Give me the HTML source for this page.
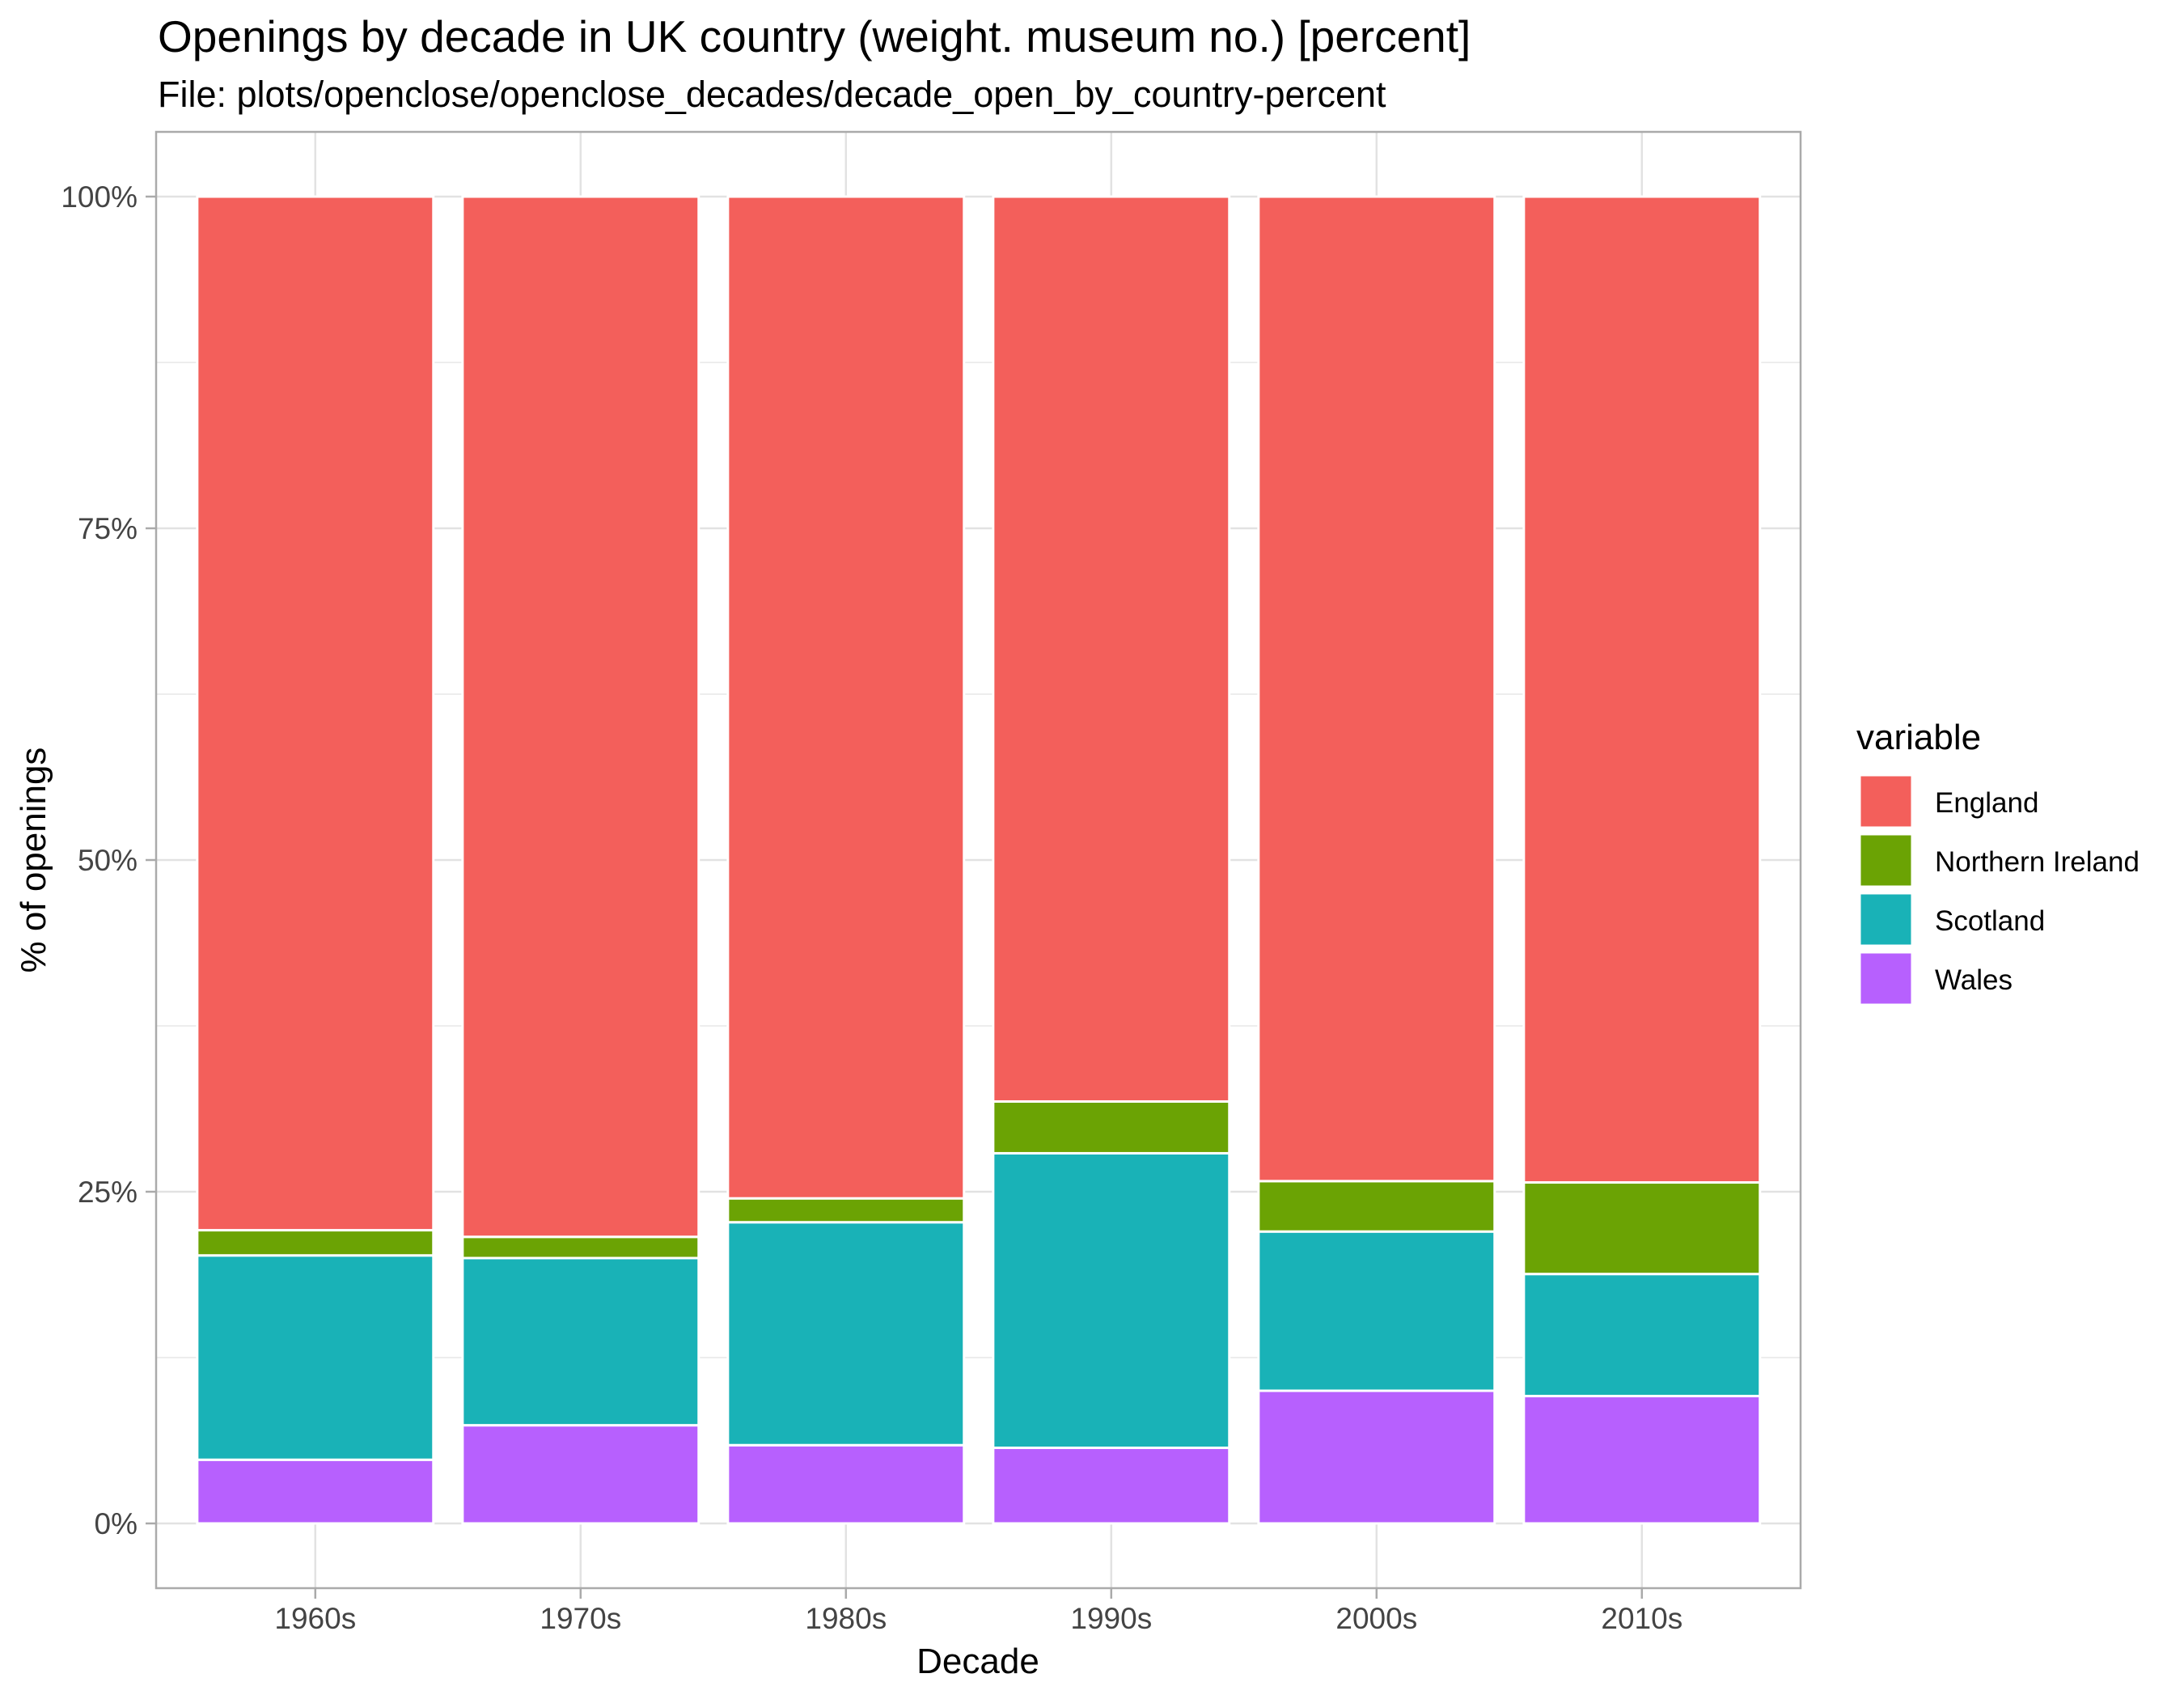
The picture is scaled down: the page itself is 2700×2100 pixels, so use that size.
<!DOCTYPE html>
<html><head><meta charset="utf-8"><style>
html,body{margin:0;padding:0;background:#fff;}
svg{display:block;font-family:"Liberation Sans",Arial,sans-serif;}
</style></head><body>
<svg id="chart" width="2700" height="2100" viewBox="0 0 2700 2100" xmlns="http://www.w3.org/2000/svg">
<text x="195" y="64" font-size="55" fill="#000">Openings by decade in UK country (weight. museum no.) [percent]</text>
<text x="195" y="132" font-size="45" fill="#000">File: plots/openclose/openclose_decades/decade_open_by_country-percent</text>
<g id="grid"></g>
<g id="bars"></g>
<rect x="193" y="163" width="2033" height="1800" fill="none" stroke="#aaaaaa" stroke-width="2.5"/>
<g id="axes"></g>
<text x="1209" y="2068" font-size="44" text-anchor="middle" fill="#000">Decade</text>
<text transform="translate(56,1063) rotate(-90)" font-size="44" text-anchor="middle" fill="#000">% of openings</text>
<g id="legend">
<text x="2295" y="926" font-size="44" fill="#000">variable</text>
</g>
</svg>
<script>
const categories = ["1960s","1970s","1980s","1990s","2000s","2010s"];
const seriesNames = ["England","Northern Ireland","Scotland","Wales"];
const colors = ["#F35F5B","#6BA304","#19B2B7","#B760FE"];
const wales = [4.8, 7.4, 5.9, 5.7, 10.0, 9.6];
const scotland = [15.4, 12.6, 16.8, 22.2, 12.0, 9.2];
const northernIreland = [1.9, 1.6, 1.8, 3.9, 3.8, 6.9];
const england = [77.9, 78.4, 75.5, 68.2, 74.2, 74.3];
const yTicks = [0, 25, 50, 75, 100];
const yTickLabels = ["0%","25%","50%","75%","100%"];

const NS = "http://www.w3.org/2000/svg";
const x0 = 193, unit = 328;
function xs(i){ return x0 + (i + 0.6) * unit; }
function ys(v){ return 1883 - v * 16.4; }
function mk(tag, attrs, parent){ const e=document.createElementNS(NS,tag); for(const k in attrs) e.setAttribute(k,attrs[k]); parent.appendChild(e); return e; }

const grid = document.getElementById('grid');
for (let v = 0; v <= 100; v += 12.5) {
  const l = mk('line',{x1:193,x2:2226,y1:ys(v),y2:ys(v),stroke:'#e2e2e2','stroke-width':v%25===0?2.5:1.3},grid);
  
  
}
categories.forEach((c,i)=>{
  const l = mk('line',{x1:xs(i),x2:xs(i),y1:163,y2:1963,stroke:'#e2e2e2','stroke-width':2.5},grid);
  
  
});

const bars = document.getElementById('bars');
const stackOrder = [wales, scotland, northernIreland, england];
const stackColors = [colors[3], colors[2], colors[1], colors[0]];
const stackNames = ["wales","scotland","northern-ireland","england"];
const bw = 0.89 * unit;
categories.forEach((c,i)=>{
  let base = 0;
  stackOrder.forEach((arr,k)=>{
    const top = base + arr[i];
    const r = mk('rect',{x:xs(i)-bw/2,y:ys(top),width:bw,height:ys(base)-ys(top),fill:stackColors[k],stroke:'#fff','stroke-width':3},bars);
    
    
    base = top;
  });
});

const axes = document.getElementById('axes');
yTicks.forEach((v,j)=>{
  const t = mk('line',{x1:180,x2:193,y1:ys(v),y2:ys(v),stroke:'#aaaaaa','stroke-width':2.5},axes);
  
  
  const tx = mk('text',{x:170,y:ys(v)+13,'font-size':37,'text-anchor':'end',fill:'#444'},axes);
  tx.textContent = yTickLabels[j];
  
  
});
categories.forEach((c,i)=>{
  const t = mk('line',{x1:xs(i),x2:xs(i),y1:1963,y2:1976,stroke:'#aaaaaa','stroke-width':2.5},axes);
  
  
  const tx = mk('text',{x:xs(i),y:2013,'font-size':37,'text-anchor':'middle',fill:'#444'},axes);
  tx.textContent = c;
  
  
});

const legend = document.getElementById('legend');
seriesNames.forEach((n,k)=>{
  const y = 959 + k*73;
  const r = mk('rect',{x:2300,y:y,width:63,height:63,fill:colors[k],stroke:'#fff','stroke-width':1},legend);
  
  
  const t = mk('text',{x:2392,y:y+45,'font-size':35,fill:'#000'},legend);
  t.textContent = n;
  
  
});
</script>
</body></html>
